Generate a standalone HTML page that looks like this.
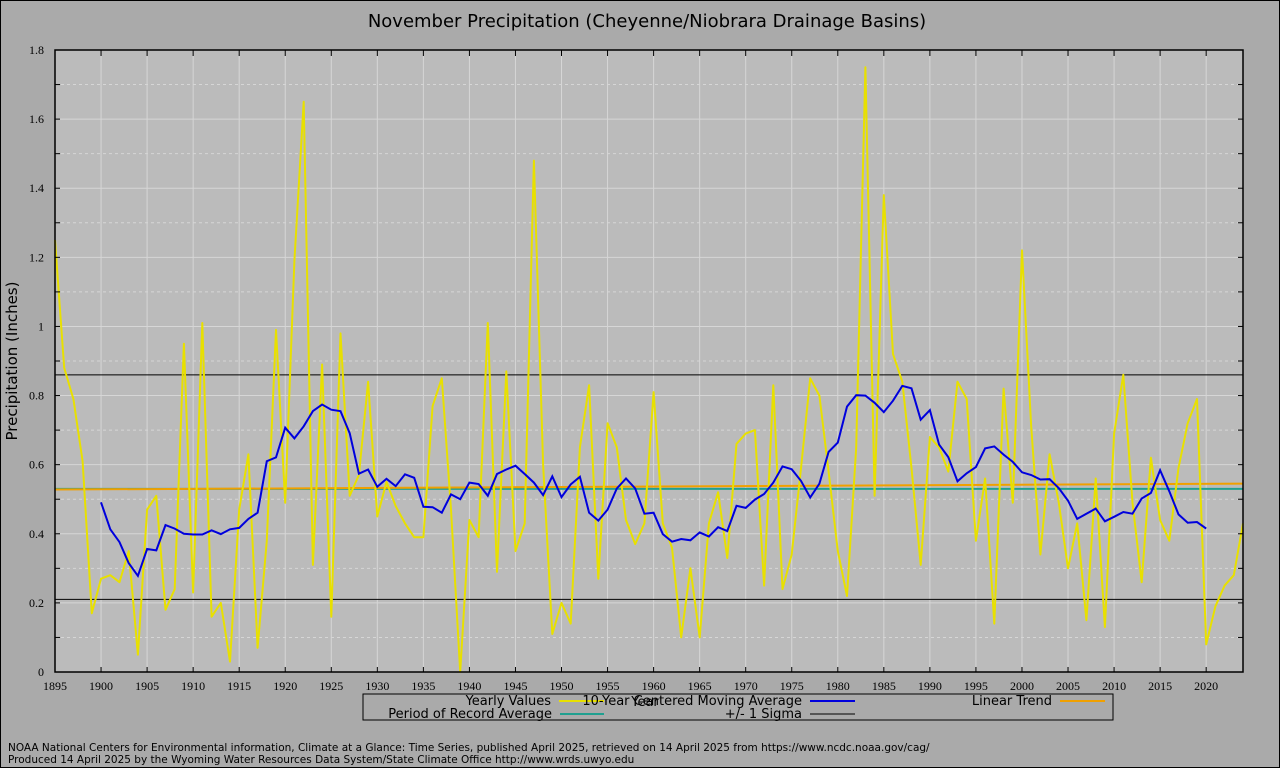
<!DOCTYPE html>
<html><head><meta charset="utf-8"><style>
html,body{margin:0;padding:0;background:#aaaaaa;}
svg{display:block;}
</style></head><body>
<svg id="chart" width="1280" height="768" xmlns="http://www.w3.org/2000/svg">
<rect x="0.5" y="0.5" width="1279" height="767" fill="#aaaaaa" stroke="#000" stroke-width="1"/>
<text x="647" y="27" font-family="DejaVu Sans, Liberation Sans, sans-serif" font-size="18" text-anchor="middle" fill="#000">November Precipitation (Cheyenne/Niobrara Drainage Basins)</text>
<rect x="55" y="50" width="1188" height="622" fill="#bbbbbb"/>
<g id="grid"></g>
<g id="refs"></g>
<g id="series"></g>
<rect x="55" y="50" width="1188" height="622" fill="none" stroke="#000" stroke-width="1.5"/>
<g id="axes"></g>
<text transform="translate(17,361) rotate(-90)" font-family="DejaVu Sans, Liberation Sans, sans-serif" font-size="15" text-anchor="middle">Precipitation (Inches)</text>
<text x="645" y="706" font-family="DejaVu Sans, Liberation Sans, sans-serif" font-size="13" text-anchor="middle">Year</text>
<g font-family="DejaVu Sans, Liberation Sans, sans-serif" font-size="13">
<rect x="363" y="694" width="750" height="26" fill="none" stroke="#000" stroke-width="1"/>
<text x="551" y="705" text-anchor="end">Yearly Values</text>
<line x1="559" y1="701" x2="604" y2="701" stroke="#e8e000" stroke-width="2"/>
<text x="802" y="705" text-anchor="end">10-Year Centered Moving Average</text>
<line x1="810" y1="701" x2="855" y2="701" stroke="#0000dd" stroke-width="2"/>
<text x="1052" y="705" text-anchor="end">Linear Trend</text>
<line x1="1060" y1="701" x2="1105" y2="701" stroke="#f0a000" stroke-width="2"/>
<text x="552" y="718" text-anchor="end">Period of Record Average</text>
<line x1="560" y1="714" x2="604" y2="714" stroke="#20a090" stroke-width="2"/>
<text x="802" y="718" text-anchor="end">+/- 1 Sigma</text>
<line x1="810" y1="714" x2="855" y2="714" stroke="#000" stroke-width="1"/>
</g>
<g font-family="DejaVu Sans, Liberation Sans, sans-serif" font-size="10.5">
<text x="8" y="751">NOAA National Centers for Environmental information, Climate at a Glance: Time Series, published April 2025, retrieved on 14 April 2025 from https://www.ncdc.noaa.gov/cag/</text>
<text x="8" y="763">Produced 14 April 2025 by the Wyoming Water Resources Data System/State Climate Office http://www.wrds.uwyo.edu</text>
</g>
</svg>
<script>
const firstYear = 1895;
const yearlyValues = [
1.25,0.88,0.79,0.61,0.17,0.27,0.28,0.26,0.35,0.05,
0.47,0.51,0.18,0.24,0.95,0.23,1.01,0.16,0.20,0.03,
0.47,0.63,0.07,0.38,0.99,0.49,1.19,1.65,0.31,0.89,
0.16,0.98,0.51,0.57,0.84,0.45,0.55,0.48,0.43,0.39,
0.39,0.77,0.85,0.47,0.00,0.44,0.39,1.01,0.29,0.87,
0.35,0.43,1.48,0.60,0.11,0.20,0.14,0.65,0.83,0.27,
0.72,0.65,0.44,0.37,0.43,0.81,0.43,0.36,0.10,0.30,
0.10,0.43,0.52,0.33,0.66,0.69,0.70,0.25,0.83,0.24,
0.34,0.59,0.85,0.80,0.58,0.35,0.22,0.65,1.75,0.51,
1.38,0.92,0.84,0.59,0.31,0.68,0.65,0.58,0.84,0.79,
0.38,0.56,0.14,0.82,0.49,1.22,0.71,0.34,0.63,0.49,
0.30,0.43,0.15,0.56,0.13,0.69,0.86,0.49,0.26,0.62,
0.44,0.38,0.59,0.72,0.79,0.08,0.19,0.25,0.28,0.43];
const periodAverage = [0.53];
const sigmaValues = [0.21, 0.86];
const trendEnds = [0.528, 0.545];
const xTickYears = [1895,1900,1905,1910,1915,1920,1925,1930,1935,1940,1945,1950,1955,1960,1965,1970,1975,1980,1985,1990,1995,2000,2005,2010,2015,2020];
const yTickValues = [0,0.2,0.4,0.6,0.8,1,1.2,1.4,1.6,1.8];
const lastYear = firstYear + yearlyValues.length - 1;

const NS = "http://www.w3.org/2000/svg";
const L = 55, R = 1243, T = 50, B = 672;
function xs(yr){ return L + (yr - firstYear) * (R - L) / (lastYear - firstYear); }
function ys(v){ return B - v * (B - T) / 1.8; }
function mk(tag, attrs, parent){
  const e = document.createElementNS(NS, tag);
  for (const k in attrs) e.setAttribute(k, attrs[k]);
  parent.appendChild(e); return e;
}
const grid = document.getElementById('grid');
const axes = document.getElementById('axes');
const refs = document.getElementById('refs');
const series = document.getElementById('series');

for (let i = 1; i < 18; i++) {
  const v = i / 10, y = ys(v);
  const major = i % 2 === 0;
  const g = mk('line', {x1:L, x2:R, y1:y, y2:y, stroke:'#d6d6d6', 'stroke-width':1, 'stroke-dasharray': major ? '' : '3,3'}, grid);
  
  
  const t1 = mk('line', {x1:L, x2:L+5, y1:y, y2:y, stroke:'#000'}, axes);
  
  
  const t2 = mk('line', {x1:R-5, x2:R, y1:y, y2:y, stroke:'#000'}, axes);
  
  
}
yTickValues.forEach(v => {
  const t = mk('text', {x:44, y:ys(v)+4, 'text-anchor':'end', 'font-family':'Liberation Serif, serif', 'font-size':12}, axes);
  t.textContent = String(v);
  
  
});
xTickYears.forEach(yr => {
  const x = xs(yr);
  if (yr !== firstYear) {
    const g = mk('line', {x1:x, x2:x, y1:T, y2:B, stroke:'#d6d6d6', 'stroke-width':1}, grid);
    
    
    const t1 = mk('line', {x1:x, x2:x, y1:B-5, y2:B, stroke:'#000'}, axes);
    
    
    const t2 = mk('line', {x1:x, x2:x, y1:T, y2:T+6, stroke:'#000'}, axes);
    
    
  }
  const t = mk('text', {x:x, y:690, 'text-anchor':'middle', 'font-family':'Liberation Serif, serif', 'font-size':12}, axes);
  t.textContent = String(yr);
  
  
});

sigmaValues.forEach(v => {
  const s = mk('line', {x1:L, x2:R, y1:ys(v), y2:ys(v), stroke:'#000', 'stroke-width':1}, refs);
  
  
});
const pa = mk('line', {x1:L, x2:R, y1:ys(periodAverage[0]), y2:ys(periodAverage[0]), stroke:'#20a090', 'stroke-width':2}, refs);


const tr = mk('line', {x1:L, x2:R, y1:ys(trendEnds[0]), y2:ys(trendEnds[1]), stroke:'#f0a000', 'stroke-width':2}, refs);



const yp = yearlyValues.map((v,i) => xs(firstYear+i).toFixed(1)+','+ys(v).toFixed(1)).join(' ');
const yl = mk('polyline', {points:yp, fill:'none', stroke:'#e8e000', 'stroke-width':2, 'stroke-linejoin':'round'}, series);



const maPts = [];
for (let i = 5; i + 4 < yearlyValues.length; i++) {
  let s = 0;
  for (let j = i - 5; j <= i + 4; j++) s += yearlyValues[j];
  maPts.push(xs(firstYear+i).toFixed(1)+','+ys(s/10).toFixed(1));
}
const ma = mk('polyline', {points:maPts.join(' '), fill:'none', stroke:'#0000dd', 'stroke-width':2}, series);


</script>
</body></html>
